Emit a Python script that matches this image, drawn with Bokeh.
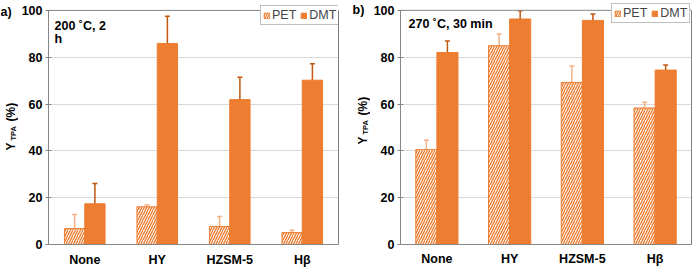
import math
from bokeh.plotting import figure
from bokeh.models import (ColumnDataSource, FactorRange, Range1d, Whisker, TeeHead,
                          Legend, LegendItem, Label, Span, LinearAxis, FixedTicker)
from bokeh.transform import dodge
from bokeh.layouts import row
from bokeh.embed import file_html
from bokeh.resources import INLINE

cats = ["None", "HY", "HZSM-5", "Hβ"]
yticks = [0, 20, 40, 60, 80, 100]

a_pet = [6.8, 16.1, 7.7, 5.1]
a_pet_err = [6.0, 0.8, 4.3, 1.0]
a_dmt = [17.4, 85.9, 61.9, 70.2]
a_dmt_err = [8.7, 11.6, 9.6, 7.0]

b_pet = [40.5, 84.9, 69.2, 58.3]
b_pet_err = [4.0, 5.0, 7.0, 2.5]
b_dmt = [82.0, 96.3, 95.7, 74.5]
b_dmt_err = [4.9, 3.5, 2.7, 2.2]

ORANGE = "#ED7D31"
DARK = "#C0560F"
LIGHT = "#F4B183"
AXIS = "#868686"
FONT = "Liberation Sans"
H = 269
HEAD = 10  # px between canvas top and the 100 % line


def lab(p, x, y, text, size="12.5px", angle=0.0):
    p.add_layout(Label(x=x, y=y, x_units="screen", y_units="screen", angle=angle,
                       text=text, text_font=FONT, text_font_style="bold",
                       text_font_size=size, text_align="left",
                       text_baseline="alphabetic", text_color="black"))


def side(width, bb, tag, tag_x, ylab):
    """Narrow strip left of a panel holding the panel tag and the y-axis title."""
    s = figure(width=width, height=H, output_backend="svg", toolbar_location=None,
               x_axis_type=None, y_axis_type=None, min_border=0,
               min_border_left=0, min_border_right=0, min_border_top=0,
               min_border_bottom=bb, x_range=Range1d(0, 1), y_range=Range1d(0, 1))
    s.outline_line_color = None
    s.background_fill_color = "white"
    s.border_fill_color = "white"
    s.scatter(x=[0.5], y=[0.5], size=0, alpha=0)
    fh = H - bb  # frame height (frame starts at canvas top)
    lab(s, tag_x, fh - 13, tag)
    (yx, sx, ystart) = ylab
    up = math.pi / 2
    y0 = fh - ystart
    lab(s, yx, y0, "Y", "12px", up)
    lab(s, sx, y0 + 10, "TPA", "7.5px", up)
    lab(s, yx, y0 + 29, "(%)", "12px", up)
    return s


def panel(pet, pet_err, dmt, dmt_err, width, bl, br, bb, xstand,
          off, bw, titles, leg_x):
    src = ColumnDataSource(dict(
        cat=cats, pet=pet, dmt=dmt,
        pet_hi=[v + e for v, e in zip(pet, pet_err)],
        pet_lo=[v - e for v, e in zip(pet, pet_err)],
        dmt_hi=[v + e for v, e in zip(dmt, dmt_err)],
        dmt_lo=[v - e for v, e in zip(dmt, dmt_err)],
    ))
    fh = H - bb
    ytop = yticks[-1] * fh / (fh - HEAD)   # frame reaches canvas top; 100 sits HEAD px lower
    p = figure(x_range=FactorRange(*cats, range_padding=0), y_range=Range1d(0, ytop),
               width=width, height=H, output_backend="svg", toolbar_location=None,
               min_border_left=bl, min_border_right=br, min_border_top=0,
               min_border_bottom=bb)
    p.background_fill_color = "white"
    p.border_fill_color = "white"
    p.outline_line_color = None

    r_pet = p.vbar(x=dodge("cat", -off, range=p.x_range), top="pet", width=bw, source=src,
                   fill_color="white", line_color=ORANGE, line_width=1,
                   hatch_pattern="/", hatch_color=ORANGE, hatch_scale=5, hatch_weight=1.4)
    r_dmt = p.vbar(x=dodge("cat", off, range=p.x_range), top="dmt", width=bw, source=src,
                   fill_color=ORANGE, line_color=ORANGE, line_width=1)

    for base, hi, lo, col in ((dodge("cat", -off, range=p.x_range), "pet_hi", "pet_lo", LIGHT),
                              (dodge("cat", off, range=p.x_range), "dmt_hi", "dmt_lo", DARK)):
        p.add_layout(Whisker(base=base, upper=hi, lower=lo, source=src,
                             line_color=col, line_width=1.5,
                             upper_head=TeeHead(size=5, line_color=col, line_width=1.5),
                             lower_head=TeeHead(size=5, line_color=col, line_width=1.5)))

    p.xgrid.grid_line_color = None
    p.ygrid.grid_line_color = "#D9D9D9"
    p.ygrid.ticker = yticks[:-1]
    # top border of the plot area at 100 %
    p.add_layout(Span(location=yticks[-1], dimension="width", line_color=AXIS, line_width=1))

    p.yaxis.ticker = yticks
    p.yaxis.bounds = (yticks[0], yticks[-1])
    p.yaxis.axis_line_color = AXIS
    p.yaxis.major_tick_line_color = AXIS
    p.yaxis.major_tick_in = 3
    p.yaxis.major_tick_out = 3
    p.yaxis.minor_tick_line_color = None
    p.yaxis.major_label_standoff = 3
    p.yaxis.major_label_text_font = FONT
    p.yaxis.major_label_text_font_style = "bold"
    p.yaxis.major_label_text_font_size = "12.5px"
    p.yaxis.major_label_text_color = "black"

    # right border of the plot area
    rax = LinearAxis(ticker=FixedTicker(ticks=[]), bounds=(yticks[0], yticks[-1]),
                     axis_line_color="#7F7F7F", major_tick_line_color=None,
                     minor_tick_line_color=None, major_tick_in=0, major_tick_out=0,
                     minor_tick_in=0, minor_tick_out=0, major_label_standoff=0)
    p.add_layout(rax, "right")

    p.xaxis.axis_line_color = AXIS
    p.xaxis.major_tick_line_color = None
    p.xaxis.minor_tick_line_color = None
    p.xaxis.major_tick_in = 0
    p.xaxis.major_tick_out = 0
    p.xaxis.major_label_standoff = xstand
    p.xaxis.major_label_text_font = FONT
    p.xaxis.major_label_text_font_style = "bold"
    p.xaxis.major_label_text_font_size = "12.5px"
    p.xaxis.major_label_text_color = "black"

    leg = Legend(items=[LegendItem(label="PET", renderers=[r_pet]),
                        LegendItem(label="DMT", renderers=[r_dmt])],
                 orientation="horizontal", location=(leg_x, fh - 27), margin=0,
                 padding=2, spacing=4, glyph_width=7, glyph_height=7, label_standoff=2,
                 label_height=12, label_width=10,
                 label_text_font=FONT, label_text_font_size="12.5px",
                 border_line_color="#7F7F7F", background_fill_alpha=1)
    p.add_layout(leg)

    for (tx, ty, t) in titles:
        lab(p, tx, fh - ty, t)
    return p


# page layout: strip a (0..18) | panel a (18..345, frame 46..338) |
#              strip b (345..370) | panel b (370..693, frame 400..691)
s1 = side(18, 23, "a)", 0, (10, 12.5, 152))
p1 = panel(a_pet, a_pet_err, a_dmt, a_dmt_err, width=327,
           bl=28, br=7, bb=23, xstand=8, off=0.14, bw=0.28,
           titles=[(6, 27, "200 ˚C, 2"), (6, 40, "h")], leg_x=212)
s2 = side(25, 21, "b)", 7, (17, 19.5, 148))
p2 = panel(b_pet, b_pet_err, b_dmt, b_dmt_err, width=323,
           bl=30, br=2, bb=21, xstand=7, off=0.145, bw=0.29,
           titles=[(8, 27, "270 ˚C, 30 min")], leg_x=211)

layout = row(s1, p1, s2, p2, spacing=0)
open("out.html", "w").write(file_html(layout, INLINE))
